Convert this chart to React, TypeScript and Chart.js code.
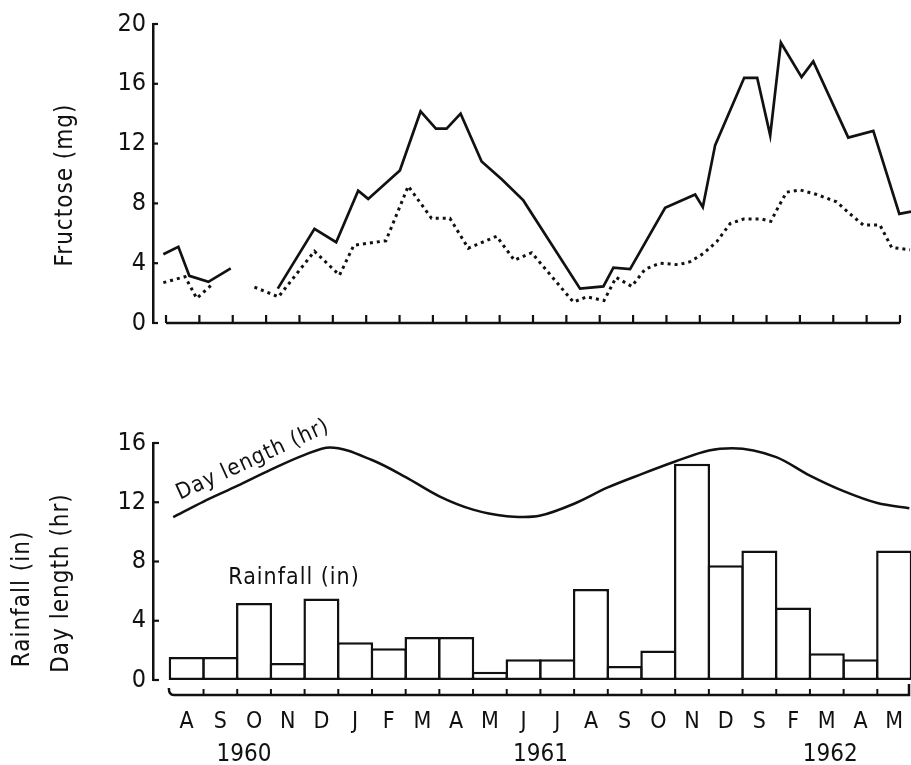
import React, { useEffect, useRef } from "react";
import { Chart, registerables } from "chart.js";

Chart.register(...registerables);

const FONT = '"DejaVu Sans Condensed", "DejaVu Sans", sans-serif';
const INK = "#111111";

// ---- data ----
const monthLabels = ["A", "S", "O", "N", "D", "J", "F", "M", "A", "M", "J", "J", "A", "S", "O", "N", "D", "S", "F", "M", "A", "M"];
const yearLabels = ["1960", "1961", "1962"];
const yearPositions = [2.2, 11.0, 19.6];

const fructoseTicks = [0, 4, 8, 12, 16, 20];
const solidMonths = [-0.08, 0.37, 0.7, 1.27, 1.94, 2.6, 3.35, 4.45, 5.1, 5.76, 6.06, 7.01, 7.63, 8.09, 8.41, 8.83, 9.46, 10.07, 10.71, 12.41, 13.11, 13.41, 13.91, 14.96, 15.86, 16.09, 16.46, 17.33, 17.72, 18.11, 18.43, 19.05, 19.4, 20.45, 21.2, 21.98, 22.33];
const solidValues = [4.6, 5.1, 3.15, 2.75, 3.65, null, 2.3, 6.3, 5.4, 8.85, 8.3, 10.2, 14.15, 13.0, 13.0, 14.0, 10.8, 9.6, 8.2, 2.3, 2.45, 3.7, 3.6, 7.7, 8.6, 7.75, 11.9, 16.4, 16.4, 12.55, 18.75, 16.45, 17.5, 12.4, 12.85, 7.3, 7.45];
const dottedMonths = [-0.08, 0.57, 0.92, 1.37, 2.0, 2.65, 3.37, 4.45, 5.2, 5.63, 6.59, 7.26, 7.96, 8.51, 9.06, 9.91, 10.44, 10.96, 12.21, 12.61, 13.13, 13.49, 13.96, 14.36, 14.81, 15.36, 15.71, 16.11, 16.51, 16.91, 17.31, 17.86, 18.13, 18.35, 18.6, 19.0, 19.5, 20.1, 20.5, 20.9, 21.4, 21.75, 22.3];
const dottedValues = [2.7, 3.1, 1.65, 2.55, null, 2.4, 1.75, 4.8, 3.2, 5.2, 5.5, 9.15, 7.0, 7.0, 5.0, 5.8, 4.2, 4.7, 1.4, 1.75, 1.5, 3.05, 2.45, 3.6, 4.0, 3.9, 4.1, 4.65, 5.45, 6.65, 6.95, 6.95, 6.8, 7.75, 8.75, 8.9, 8.6, 8.1, 7.3, 6.55, 6.55, 5.05, 4.9];

const rainfallTicks = [0, 4, 8, 12, 16];
const rainfall = [1.55, 1.55, 5.2, 1.15, 5.5, 2.55, 2.15, 2.9, 2.9, 0.55, 1.4, 1.4, 6.15, 0.95, 2.0, 14.6, 7.75, 8.75, 4.9, 1.8, 1.4, 8.75];
const dayLengthMonths = [0.1, 1, 2, 3, 4, 4.75, 6, 7, 8, 9, 10, 10.5, 11, 12, 13, 14, 15, 16, 16.7, 18, 19, 20, 21, 21.95];
const dayLength = [11.0, 12.05, 13.1, 14.2, 15.2, 15.7, 14.85, 13.7, 12.4, 11.5, 11.05, 11.0, 11.1, 11.9, 13.0, 13.9, 14.75, 15.5, 15.65, 15.05, 13.8, 12.75, 11.95, 11.6];

const pts = (xs: number[], ys: (number | null)[]) => xs.map((x, i) => ({ x, y: ys[i] }));

function rotatedText(ctx: CanvasRenderingContext2D, text: string, x: number, y: number, angle: number, size: number, spacing = "0px") {
  ctx.save();
  ctx.translate(x, y);
  ctx.rotate(angle);
  ctx.font = `${size}px ${FONT}`;
  (ctx as any).letterSpacing = spacing;
  ctx.textAlign = "center";
  ctx.textBaseline = "middle";
  ctx.fillText(text, 0, 0);
  ctx.restore();
}

const topDeco = {
  id: "topDeco",
  afterDraw(chart: any) {
    const { ctx, chartArea, scales } = chart;
    const x = scales.x, y = scales.y;
    ctx.save();
    ctx.strokeStyle = INK;
    ctx.fillStyle = INK;
    ctx.lineWidth = 2.5;
    const ay = y.getPixelForValue(0);
    ctx.beginPath();
    ctx.moveTo(x.getPixelForValue(0), ay);
    ctx.lineTo(x.getPixelForValue(22), ay);
    ctx.stroke();
    ctx.lineWidth = 2.2;
    for (let i = 0; i <= 22; i++) {
      const px = x.getPixelForValue(i);
      ctx.beginPath();
      ctx.moveTo(px, ay);
      ctx.lineTo(px, ay - 8);
      ctx.stroke();
    }
    for (const v of fructoseTicks) {
      const py = y.getPixelForValue(v);
      ctx.beginPath();
      ctx.moveTo(chartArea.left, py);
      ctx.lineTo(chartArea.left + 5, py);
      ctx.stroke();
    }
    rotatedText(ctx, "Fructose (mg)", 66, 185, -Math.PI / 2, 24, "1px");
    ctx.restore();
  },
};

const bottomDeco = {
  id: "bottomDeco",
  afterDraw(chart: any) {
    const { ctx, chartArea, scales } = chart;
    const x = scales.x, y = scales.y;
    ctx.save();
    ctx.strokeStyle = INK;
    ctx.fillStyle = INK;
    ctx.lineWidth = 2.5;
    const ay = chartArea.bottom + 15;
    const x0 = x.getPixelForValue(0);
    const x1 = x.getPixelForValue(22) - 2;
    ctx.beginPath();
    ctx.moveTo(x0 - 1, ay - 7);
    ctx.quadraticCurveTo(x0 - 1, ay, x0 + 4, ay);
    ctx.lineTo(x1, ay);
    ctx.lineTo(x1, ay - 11);
    ctx.stroke();
    ctx.lineWidth = 2;
    for (let i = 1; i < 22; i++) {
      const px = x.getPixelForValue(i);
      ctx.beginPath();
      ctx.moveTo(px, ay);
      ctx.lineTo(px, ay - 6);
      ctx.stroke();
    }
    ctx.lineWidth = 2.2;
    for (const v of rainfallTicks) {
      const py = y.getPixelForValue(v);
      ctx.beginPath();
      ctx.moveTo(chartArea.left, py);
      ctx.lineTo(chartArea.left + 6, py);
      ctx.stroke();
    }
    // year labels
    ctx.font = `24px ${FONT}`;
    ctx.textAlign = "center";
    ctx.textBaseline = "middle";
    yearLabels.forEach((t, i) => {
      ctx.fillText(t, x.getPixelForValue(yearPositions[i]), 410);
    });
    // axis titles
    rotatedText(ctx, "Rainfall (in)", 23, 254, -Math.PI / 2, 24, "1px");
    rotatedText(ctx, "Day length (hr)", 62, 238, -Math.PI / 2, 24, "1px");
    // in-plot labels
    rotatedText(ctx, "Rainfall (in)", 294, 233, 0, 23, "1px");
    rotatedText(ctx, "Day length (hr)", 253, 115, -0.43, 22, "1px");
    ctx.restore();
  },
};

export default function App() {
  const topRef = useRef<HTMLCanvasElement>(null);
  const botRef = useRef<HTMLCanvasElement>(null);

  useEffect(() => {
    const yTickStyle = { color: INK, padding: 7, font: { family: FONT, size: 25 } };
    const top = new Chart(topRef.current!, {
      type: "line",
      data: {
        datasets: [
          {
            data: pts(solidMonths, solidValues) as any,
            borderColor: INK,
            borderWidth: 2.7,
            pointRadius: 0,
            spanGaps: false,
            tension: 0,
          },
          {
            data: pts(dottedMonths, dottedValues) as any,
            borderColor: INK,
            borderWidth: 3,
            borderDash: [3, 4],
            pointRadius: 0,
            spanGaps: false,
            tension: 0,
          },
        ],
      },
      options: {
        animation: false,
        responsive: false,
        events: [],
        layout: { padding: { top: 24, bottom: 14, left: 0, right: 0 } },
        plugins: { legend: { display: false }, tooltip: { enabled: false } },
        scales: {
          x: { type: "linear", display: false, min: -0.39, max: 22.33 },
          y: {
            min: 0,
            max: 20,
            afterBuildTicks: (s: any) => {
              s.ticks = fructoseTicks.map((v) => ({ value: v }));
            },
            afterFit: (s: any) => {
              s.width = 153;
            },
            grid: { display: false, drawTicks: false },
            border: { display: true, width: 2.5, color: INK },
            ticks: yTickStyle,
          },
        },
      } as any,
      plugins: [topDeco],
    });

    const bot = new Chart(botRef.current!, {
      type: "bar",
      data: {
        datasets: [
          {
            type: "line",
            data: pts(dayLengthMonths, dayLength) as any,
            borderColor: INK,
            borderWidth: 2.5,
            pointRadius: 0,
            cubicInterpolationMode: "monotone",
            order: 0,
          } as any,
          {
            type: "bar",
            data: rainfall.map((v, i) => ({ x: i + 0.5, y: v })) as any,
            backgroundColor: "#ffffff",
            borderColor: INK,
            borderWidth: 2.5,
            borderSkipped: false,
            barPercentage: 1.07,
            categoryPercentage: 1,
            order: 1,
          } as any,
        ],
      },
      options: {
        animation: false,
        responsive: false,
        events: [],
        layout: { padding: { top: 98, bottom: 0, left: 0, right: 0 } },
        plugins: { legend: { display: false }, tooltip: { enabled: false } },
        scales: {
          x: {
            type: "linear",
            min: -0.5,
            max: 22,
            offset: false,
            afterBuildTicks: (s: any) => {
              s.ticks = monthLabels.map((_, i) => ({ value: i + 0.5 }));
            },
            afterFit: (s: any) => {
              s.height = 85;
              s.paddingLeft = 0;
              s.paddingRight = 0;
            },
            grid: { display: false, drawTicks: false },
            border: { display: false },
            ticks: {
              autoSkip: false,
              maxRotation: 0,
              minRotation: 0,
              padding: 28,
              color: INK,
              font: { family: FONT, size: 23 },
              callback: (_v: any, i: number) => monthLabels[i],
            },
          },
          y: {
            min: 0,
            max: 16,
            afterBuildTicks: (s: any) => {
              s.ticks = rainfallTicks.map((v) => ({ value: v }));
            },
            afterFit: (s: any) => {
              s.width = 153;
            },
            grid: { display: false, drawTicks: false },
            border: { display: true, width: 2.5, color: INK },
            ticks: yTickStyle,
          },
        },
      } as any,
      plugins: [bottomDeco],
    });

    return () => {
      top.destroy();
      bot.destroy();
    };
  }, []);

  return (
    <div style={{ position: "absolute", left: 0, top: 0, width: 911, height: 765, background: "#fff" }}>
      <canvas ref={topRef} width={911} height={345} style={{ position: "absolute", left: 0, top: 0, display: "block" }} />
      <canvas ref={botRef} width={911} height={420} style={{ position: "absolute", left: 0, top: 345, display: "block" }} />
    </div>
  );
}
